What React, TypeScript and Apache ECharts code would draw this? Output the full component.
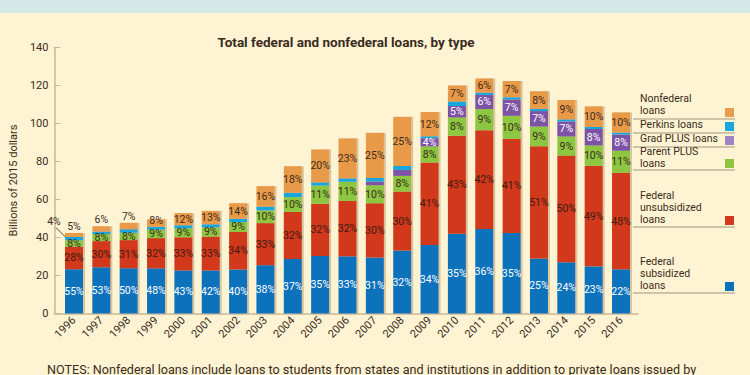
import React, { useEffect, useRef } from "react";
import * as echarts from "echarts";

const years = ["1996","1997","1998","1999","2000","2001","2002","2003","2004","2005","2006","2007","2008","2009","2010","2011","2012","2013","2014","2015","2016"];
// total loans, billions of 2015 dollars
const totals = [42.4, 45.9, 47.7, 49.6, 52.8, 54.0, 58.0, 67.0, 77.5, 86.3, 91.2, 95.1, 103.5, 106.0, 120.0, 123.7, 121.1, 115.8, 112.3, 107.9, 105.8];
// shares of total, percent (as labelled)
const pctSubsidized = [55, 53, 50, 48, 43, 42, 40, 38, 37, 35, 33, 31, 32, 34, 35, 36, 35, 25, 24, 23, 22];
const pctUnsubsidized = [28, 30, 31, 32, 33, 33, 34, 33, 32, 32, 32, 30, 30, 41, 43, 42, 41, 51, 50, 49, 48];
const pctParentPlus = [8, 8, 8, 9, 9, 9, 9, 10, 10, 11, 11, 10, 8, 8, 8, 9, 10, 9, 9, 10, 11];
const pctGradPlus = [0, 0, 0, 0, 0, 0, 0, 0, 0, 0, 0, 2, 3, 4, 5, 6, 7, 7, 7, 8, 8];
const pctPerkins = [4, 3, 4, 3, 3, 3, 3, 3, 3, 2, 2, 2, 2, 1, 2, 1, 1, 1, 1, 1, 1];
const pctNonfederal = [5, 6, 7, 8, 12, 13, 14, 16, 18, 20, 23, 25, 25, 12, 7, 6, 7, 8, 9, 10, 10];
const yTicks = [0, 20, 40, 60, 80, 100, 120, 140];

const DARK = "#3b2b20";
const FONT = "Roboto";

export default function App() {
  const ref = useRef<HTMLDivElement>(null);
  useEffect(() => {
    document.body.style.margin = "0";
    const chart = echarts.init(ref.current!, null, { renderer: "svg" });

    const toValues = (pcts: number[]) => pcts.map((p, i) => +(totals[i] * p / 100).toFixed(2));
    const valSub = toValues(pctSubsidized);
    const valUnsub = toValues(pctUnsubsidized);
    const valParent = toValues(pctParentPlus);
    const valGrad = toValues(pctGradPlus);
    const valPerkins = toValues(pctPerkins);
    const valNonfed = toValues(pctNonfederal);

    const shadow = {
      shadowColor: "rgba(140,110,60,0.35)",
      shadowOffsetX: 2,
      shadowOffsetY: 0,
      shadowBlur: 1,
    };

    const makeSeries = (
      name: string,
      vals: number[],
      pcts: number[],
      color: string,
      labelColor: string,
      show: (i: number) => boolean,
      extra: (i: number) => any = () => ({})
    ) => ({
      name,
      type: "bar",
      stack: "total",
      xAxisIndex: 0,
      yAxisIndex: 0,
      barWidth: 18,
      itemStyle: { color, ...shadow },
      label: {
        show: true,
        position: "inside",
        color: labelColor,
        fontFamily: FONT,
        fontSize: 10.5,
        fontWeight: "normal",
        formatter: (p: any) => (show(p.dataIndex) ? pcts[p.dataIndex] + "%" : ""),
      },
      data: vals.map((v, i) => ({ value: v, ...extra(i) })),
    });

    const legendItems = [
      { text: "Nonfederal\nloans", color: "#e99a4a", lineY: 119, dy: -2 },
      { text: "Perkins loans", color: "#19a7df", lineY: 133, dy: -2 },
      { text: "Grad PLUS loans", color: "#9d86c8", lineY: 147, dy: -2 },
      { text: "Parent PLUS\nloans", color: "#8dc63f", lineY: 170, dy: 0 },
      { text: "Federal\nunsubsidized\nloans", color: "#d2391c", lineY: 227, dy: -1 },
      { text: "Federal\nsubsidized\nloans", color: "#0a72bc", lineY: 293, dy: -1 },
    ];

    const graphic: any[] = [
      { type: "rect", id: "strip", shape: { x: 0, y: 0, width: 750, height: 13 }, style: { fill: "#d4e8e8" }, silent: true },
      {
        type: "text",
        id: "notes",
        style: {
          text: "NOTES: Nonfederal loans include loans to students from states and institutions in addition to private loans issued by",
          x: 47, y: 369, verticalAlign: "middle", align: "left",
          font: `12.6px ${FONT}`, fill: DARK,
        },
      },
    ];
    legendItems.forEach((it, k) => {
      graphic.push({
        type: "text",
        id: "lt" + k,
        style: {
          text: it.text, x: 640, y: it.lineY + it.dy, align: "left", verticalAlign: "bottom",
          font: `10.5px ${FONT}`, lineHeight: 12.3, fill: DARK,
        },
      });
      graphic.push({ type: "rect", id: "ls" + k, shape: { x: 725, y: it.lineY - 11, width: 9, height: 9 }, style: { fill: it.color } });
      graphic.push({ type: "line", id: "ll" + k, shape: { x1: 633, y1: it.lineY, x2: 735, y2: it.lineY }, style: { stroke: "#a3947c", lineWidth: 1 } });
    });

    const option: any = {
      animation: false,
      backgroundColor: "#fef4d4",
      textStyle: { fontFamily: FONT },
      title: {
        text: "Total federal and nonfederal loans, by type",
        left: 341, top: 30, textAlign: "center",
        textStyle: { fontFamily: FONT, fontSize: 13.5, fontWeight: "bold", color: DARK },
      },
      grid: [
        { left: 60.3, width: 574.4, top: 47.5, bottom: 61.5 },
        { left: 48, right: 112, top: 47.5, bottom: 61.5 },
      ],
      xAxis: [
        {
          type: "category", gridIndex: 0, data: years,
          axisLine: { show: false }, axisTick: { show: false },
          axisLabel: { rotate: 45, margin: 5, fontSize: 11, color: DARK, fontFamily: FONT, interval: 0 },
        },
        {
          type: "value", gridIndex: 1, min: 0, max: 1,
          axisLine: { show: true, onZero: false, lineStyle: { color: "#c8b896", width: 1.5 } },
          axisTick: { show: false }, axisLabel: { show: false }, splitLine: { show: false },
        },
      ],
      yAxis: [
        { type: "value", gridIndex: 0, min: 0, max: 140, interval: 20, show: false },
        {
          type: "value", gridIndex: 1, min: yTicks[0], max: yTicks[yTicks.length - 1], interval: 20,
          name: "Billions of 2015 dollars", nameLocation: "middle", nameGap: 34,
          nameTextStyle: { fontSize: 11, color: DARK, fontFamily: FONT },
          axisLine: { show: true, lineStyle: { color: "#c8b896", width: 1.5 } },
          axisTick: { show: true, inside: true, length: 6, lineStyle: { color: "#c8b896" } },
          axisLabel: { fontSize: 11, color: DARK, fontFamily: FONT, margin: 6 },
          splitLine: { show: false },
        },
      ],
      graphic,
      series: [
        makeSeries("Federal subsidized loans", valSub, pctSubsidized, "#0a72bc", "#ffffff", () => true),
        makeSeries("Federal unsubsidized loans", valUnsub, pctUnsubsidized, "#d2391c", "#3a1d12", () => true),
        makeSeries("Parent PLUS loans", valParent, pctParentPlus, "#8dc63f", DARK, () => true),
        makeSeries("Grad PLUS loans", valGrad, pctGradPlus, "#7b52a5", "#ffffff", (i) => pctGradPlus[i] >= 4),
        {
          ...makeSeries("Perkins loans", valPerkins, pctPerkins, "#19a7df", DARK, (i) => i === 0),
          labelLayout: (p: any) => (p.dataIndex === 0 ? { dx: -20, dy: -17 } : {}),
        },
        makeSeries("Nonfederal loans", valNonfed, pctNonfederal, "#e99a4a", DARK, () => true, (i) =>
          i < 3
            ? { label: { position: "top", distance: 1 } }
            : i === 3
            ? { label: { offset: [0, -3] } }
            : {}),
      ],
    };
    chart.setOption(option);

    // leader line for the 1996 Perkins label, anchored through the chart's own scales
    const mid = valSub[0] + valUnsub[0] + valParent[0] + valGrad[0] + valPerkins[0] / 2;
    const pt = chart.convertToPixel({ xAxisIndex: 0, yAxisIndex: 0 }, [0, mid]) as number[];
    if (pt && isFinite(pt[0])) {
      chart.setOption({
        graphic: [
          ...graphic,
          {
            type: "line", id: "leader",
            shape: { x1: pt[0] - 18, y1: pt[1] - 11, x2: pt[0] - 8, y2: pt[1] - 1 },
            style: { stroke: "#5a4a3a", lineWidth: 1 },
          },
        ],
      });
    }
    return () => chart.dispose();
  }, []);
  return <div ref={ref} style={{ width: 750, height: 375 }} />;
}
